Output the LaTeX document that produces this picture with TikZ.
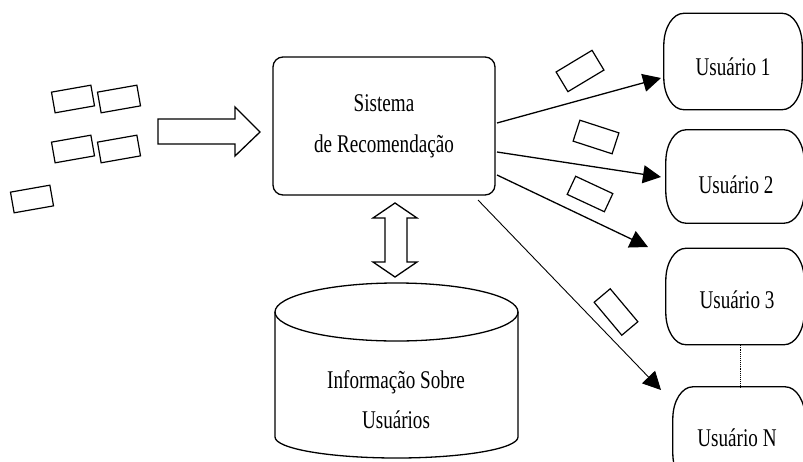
\documentclass[tikz,border=0pt]{standalone}
\usepackage{fontspec}
\setmainfont{Liberation Serif}[FakeStretch=0.75]
\usetikzlibrary{arrows.meta,calc}
\newcommand\ubox[1]{%
  \draw[ln] ($(#1.north west)+(20,0)$) -- ($(#1.north east)+(-20,0)$)
    arc[start angle=90,end angle=0,x radius=20pt,y radius=32pt]
    -- ($(#1.south east)+(0,-32)$)
    arc[start angle=0,end angle=-90,x radius=20pt,y radius=32pt]
    -- ($(#1.south west)+(20,0)$)
    arc[start angle=270,end angle=180,x radius=20pt,y radius=32pt]
    -- ($(#1.north west)+(0,32)$)
    arc[start angle=180,end angle=90,x radius=20pt,y radius=32pt] -- cycle;}
\begin{document}
\begin{tikzpicture}[x=1pt,y=-1pt,
  every node/.style={font=\fontsize{25.5}{30}\selectfont},
  ln/.style={line width=1.3pt},
  sysbox/.style={draw,ln,rounded corners=10pt,minimum width=222pt,minimum height=138pt,align=center},
  userbox/.style={minimum width=138pt,minimum height=96pt,inner sep=0pt},
  card/.style={draw,line width=1.2pt,minimum width=40pt,minimum height=21pt,inner sep=0pt},
  arr/.style={ln,-{Triangle[length=18pt,width=18pt]}},
  thinarr/.style={line width=0.9pt,-{Triangle[length=18pt,width=18pt]}}
]
\useasboundingbox (0,0) rectangle (803,461);
\clip (0,0) rectangle (803,461);
\fill[white] (0,0) rectangle (803,461);

% main system box
\node[sysbox] (sys) at (384,126) {Sistema\\[11pt]de Recomendação};

% user boxes
\node[userbox] (u1) at (733,61.5) {};
\ubox{u1}
\node at (733,67) {Usuário 1};
\node[userbox,minimum height=93pt] (u2) at (735,176.5) {};
\ubox{u2}
\node at (736,185) {Usuário 2};
\node[userbox] (u3) at (735,296.5) {};
\ubox{u3}
\node at (737,300) {Usuário 3};
\node[userbox,minimum width=132pt,minimum height=98pt] (uN) at (739,436) {};
\ubox{uN}
\node at (737,438) {Usuário N};
\draw[line width=0.9pt,densely dotted] ($(u3.south)+(5,0)$) -- ($(u3.south |- uN.north)+(5,0)$);

% incoming items
\node[card,rotate=10] (c1) at (73,99) {};
\node[card,rotate=10] (c2) at (119,99) {};
\node[card,rotate=10] (c3) at (73,149) {};
\node[card,rotate=10] (c4) at (119,149) {};
\node[card,rotate=10] (c5) at (32,199) {};

% big input arrow
\draw[ln] (158,119) -- (235,119) -- (235,107) -- (260,132) -- (235,156) -- (235,144) -- (158,144) -- cycle;

% outgoing arrows
\coordinate (s1) at (497,123);
\coordinate (s2) at (497,152);
\coordinate (s3) at (497,175);
\coordinate (s4) at (478,200);
\coordinate (t1) at (661,78);
\coordinate (t2) at (661,177);
\coordinate (t3) at (648,247);
\coordinate (t4) at (661,390);
\draw[arr] (s1) -- (t1);
\draw[arr] (s2) -- (t2);
\draw[arr] (s3) -- (t3);
\draw[thinarr] (s4) -- (t4);

% outgoing items
\node[card,minimum width=42pt,minimum height=23pt,rotate=31] (ca) at (580,71) {};
\node[card,minimum width=41pt,minimum height=22pt,rotate=-18] (cb) at (596,137) {};
\node[card,minimum width=41pt,minimum height=20pt,rotate=-25] (cc) at (590,194) {};
\node[card,minimum width=43pt,minimum height=21pt,rotate=-50] (cd) at (616,312) {};

% double arrow
\draw[ln] (395,203) -- (417,218) -- (407,218) -- (407,262) -- (417,262) -- (395,277)
  -- (373,262) -- (385,262) -- (385,218) -- (373,218) -- cycle;

% database cylinder
\draw[ln] (275,312) -- (275,437) arc[start angle=180,end angle=360,x radius=121.5pt,y radius=21pt] -- (518,312);
\draw[ln] (396.5,312) ellipse[x radius=121.5pt,y radius=29pt];
\node[align=center] (db) at (396,400) {Informação Sobre\\[10pt]Usuários};
\end{tikzpicture}
\end{document}
